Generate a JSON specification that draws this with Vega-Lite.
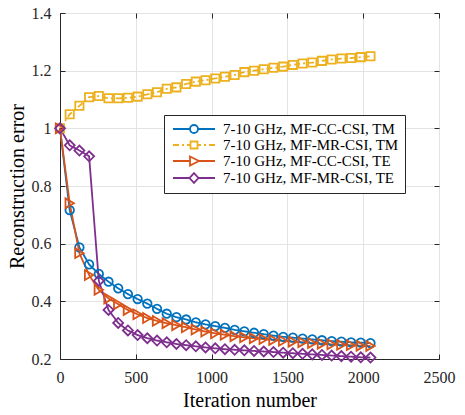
{
  "$schema": "https://vega.github.io/schema/vega-lite/v6.json",
  "width": 379,
  "height": 346,
  "autosize": "none",
  "padding": {"left": 60, "top": 13, "right": 26, "bottom": 56},
  "background": "white",
  "config": {
    "view": {"stroke": "#262626", "strokeWidth": 1},
    "font": "Liberation Serif",
    "axis": {
      "labelFont": "Liberation Serif",
      "labelFontSize": 16,
      "labelColor": "#262626",
      "titleFont": "Liberation Serif",
      "titleFontSize": 20,
      "titleFontWeight": "normal",
      "titleColor": "#000000",
      "tickColor": "#262626",
      "domainColor": "#262626",
      "gridColor": "#e3e3e3",
      "gridWidth": 1,
      "labelFlush": false,
      "labelOverlap": false
    },
    "legend": {"labelFont": "Liberation Serif"}
  },
  "data": {
    "values": [
      {"it": 0, "series": "7-10 GHz, MF-CC-CSI, TM", "v": 1.0},
      {"it": 64, "series": "7-10 GHz, MF-CC-CSI, TM", "v": 0.716},
      {"it": 128, "series": "7-10 GHz, MF-CC-CSI, TM", "v": 0.587},
      {"it": 192, "series": "7-10 GHz, MF-CC-CSI, TM", "v": 0.528},
      {"it": 256, "series": "7-10 GHz, MF-CC-CSI, TM", "v": 0.495},
      {"it": 320, "series": "7-10 GHz, MF-CC-CSI, TM", "v": 0.468},
      {"it": 384, "series": "7-10 GHz, MF-CC-CSI, TM", "v": 0.445},
      {"it": 448, "series": "7-10 GHz, MF-CC-CSI, TM", "v": 0.425},
      {"it": 512, "series": "7-10 GHz, MF-CC-CSI, TM", "v": 0.408},
      {"it": 576, "series": "7-10 GHz, MF-CC-CSI, TM", "v": 0.392},
      {"it": 640, "series": "7-10 GHz, MF-CC-CSI, TM", "v": 0.374},
      {"it": 704, "series": "7-10 GHz, MF-CC-CSI, TM", "v": 0.357},
      {"it": 768, "series": "7-10 GHz, MF-CC-CSI, TM", "v": 0.345},
      {"it": 832, "series": "7-10 GHz, MF-CC-CSI, TM", "v": 0.337},
      {"it": 896, "series": "7-10 GHz, MF-CC-CSI, TM", "v": 0.327},
      {"it": 960, "series": "7-10 GHz, MF-CC-CSI, TM", "v": 0.320},
      {"it": 1024, "series": "7-10 GHz, MF-CC-CSI, TM", "v": 0.314},
      {"it": 1088, "series": "7-10 GHz, MF-CC-CSI, TM", "v": 0.308},
      {"it": 1152, "series": "7-10 GHz, MF-CC-CSI, TM", "v": 0.301},
      {"it": 1216, "series": "7-10 GHz, MF-CC-CSI, TM", "v": 0.296},
      {"it": 1280, "series": "7-10 GHz, MF-CC-CSI, TM", "v": 0.291},
      {"it": 1344, "series": "7-10 GHz, MF-CC-CSI, TM", "v": 0.286},
      {"it": 1408, "series": "7-10 GHz, MF-CC-CSI, TM", "v": 0.281},
      {"it": 1472, "series": "7-10 GHz, MF-CC-CSI, TM", "v": 0.277},
      {"it": 1536, "series": "7-10 GHz, MF-CC-CSI, TM", "v": 0.274},
      {"it": 1600, "series": "7-10 GHz, MF-CC-CSI, TM", "v": 0.271},
      {"it": 1664, "series": "7-10 GHz, MF-CC-CSI, TM", "v": 0.268},
      {"it": 1728, "series": "7-10 GHz, MF-CC-CSI, TM", "v": 0.265},
      {"it": 1792, "series": "7-10 GHz, MF-CC-CSI, TM", "v": 0.262},
      {"it": 1856, "series": "7-10 GHz, MF-CC-CSI, TM", "v": 0.260},
      {"it": 1920, "series": "7-10 GHz, MF-CC-CSI, TM", "v": 0.258},
      {"it": 1984, "series": "7-10 GHz, MF-CC-CSI, TM", "v": 0.257},
      {"it": 2048, "series": "7-10 GHz, MF-CC-CSI, TM", "v": 0.255},

      {"it": 0, "series": "7-10 GHz, MF-MR-CSI, TM", "v": 1.0},
      {"it": 64, "series": "7-10 GHz, MF-MR-CSI, TM", "v": 1.049},
      {"it": 128, "series": "7-10 GHz, MF-MR-CSI, TM", "v": 1.078},
      {"it": 192, "series": "7-10 GHz, MF-MR-CSI, TM", "v": 1.108},
      {"it": 256, "series": "7-10 GHz, MF-MR-CSI, TM", "v": 1.112},
      {"it": 320, "series": "7-10 GHz, MF-MR-CSI, TM", "v": 1.104},
      {"it": 384, "series": "7-10 GHz, MF-MR-CSI, TM", "v": 1.104},
      {"it": 448, "series": "7-10 GHz, MF-MR-CSI, TM", "v": 1.106},
      {"it": 512, "series": "7-10 GHz, MF-MR-CSI, TM", "v": 1.110},
      {"it": 576, "series": "7-10 GHz, MF-MR-CSI, TM", "v": 1.118},
      {"it": 640, "series": "7-10 GHz, MF-MR-CSI, TM", "v": 1.125},
      {"it": 704, "series": "7-10 GHz, MF-MR-CSI, TM", "v": 1.137},
      {"it": 768, "series": "7-10 GHz, MF-MR-CSI, TM", "v": 1.142},
      {"it": 832, "series": "7-10 GHz, MF-MR-CSI, TM", "v": 1.154},
      {"it": 896, "series": "7-10 GHz, MF-MR-CSI, TM", "v": 1.162},
      {"it": 960, "series": "7-10 GHz, MF-MR-CSI, TM", "v": 1.167},
      {"it": 1024, "series": "7-10 GHz, MF-MR-CSI, TM", "v": 1.173},
      {"it": 1088, "series": "7-10 GHz, MF-MR-CSI, TM", "v": 1.179},
      {"it": 1152, "series": "7-10 GHz, MF-MR-CSI, TM", "v": 1.185},
      {"it": 1216, "series": "7-10 GHz, MF-MR-CSI, TM", "v": 1.195},
      {"it": 1280, "series": "7-10 GHz, MF-MR-CSI, TM", "v": 1.200},
      {"it": 1344, "series": "7-10 GHz, MF-MR-CSI, TM", "v": 1.205},
      {"it": 1408, "series": "7-10 GHz, MF-MR-CSI, TM", "v": 1.210},
      {"it": 1472, "series": "7-10 GHz, MF-MR-CSI, TM", "v": 1.214},
      {"it": 1536, "series": "7-10 GHz, MF-MR-CSI, TM", "v": 1.220},
      {"it": 1600, "series": "7-10 GHz, MF-MR-CSI, TM", "v": 1.225},
      {"it": 1664, "series": "7-10 GHz, MF-MR-CSI, TM", "v": 1.228},
      {"it": 1728, "series": "7-10 GHz, MF-MR-CSI, TM", "v": 1.234},
      {"it": 1792, "series": "7-10 GHz, MF-MR-CSI, TM", "v": 1.239},
      {"it": 1856, "series": "7-10 GHz, MF-MR-CSI, TM", "v": 1.242},
      {"it": 1920, "series": "7-10 GHz, MF-MR-CSI, TM", "v": 1.244},
      {"it": 1984, "series": "7-10 GHz, MF-MR-CSI, TM", "v": 1.247},
      {"it": 2048, "series": "7-10 GHz, MF-MR-CSI, TM", "v": 1.250},

      {"it": 0, "series": "7-10 GHz, MF-CC-CSI, TE", "v": 1.0},
      {"it": 64, "series": "7-10 GHz, MF-CC-CSI, TE", "v": 0.740},
      {"it": 128, "series": "7-10 GHz, MF-CC-CSI, TE", "v": 0.567},
      {"it": 192, "series": "7-10 GHz, MF-CC-CSI, TE", "v": 0.491},
      {"it": 256, "series": "7-10 GHz, MF-CC-CSI, TE", "v": 0.440},
      {"it": 320, "series": "7-10 GHz, MF-CC-CSI, TE", "v": 0.410},
      {"it": 384, "series": "7-10 GHz, MF-CC-CSI, TE", "v": 0.390},
      {"it": 448, "series": "7-10 GHz, MF-CC-CSI, TE", "v": 0.370},
      {"it": 512, "series": "7-10 GHz, MF-CC-CSI, TE", "v": 0.355},
      {"it": 576, "series": "7-10 GHz, MF-CC-CSI, TE", "v": 0.342},
      {"it": 640, "series": "7-10 GHz, MF-CC-CSI, TE", "v": 0.332},
      {"it": 704, "series": "7-10 GHz, MF-CC-CSI, TE", "v": 0.324},
      {"it": 768, "series": "7-10 GHz, MF-CC-CSI, TE", "v": 0.317},
      {"it": 832, "series": "7-10 GHz, MF-CC-CSI, TE", "v": 0.310},
      {"it": 896, "series": "7-10 GHz, MF-CC-CSI, TE", "v": 0.302},
      {"it": 960, "series": "7-10 GHz, MF-CC-CSI, TE", "v": 0.295},
      {"it": 1024, "series": "7-10 GHz, MF-CC-CSI, TE", "v": 0.289},
      {"it": 1088, "series": "7-10 GHz, MF-CC-CSI, TE", "v": 0.284},
      {"it": 1152, "series": "7-10 GHz, MF-CC-CSI, TE", "v": 0.279},
      {"it": 1216, "series": "7-10 GHz, MF-CC-CSI, TE", "v": 0.275},
      {"it": 1280, "series": "7-10 GHz, MF-CC-CSI, TE", "v": 0.272},
      {"it": 1344, "series": "7-10 GHz, MF-CC-CSI, TE", "v": 0.269},
      {"it": 1408, "series": "7-10 GHz, MF-CC-CSI, TE", "v": 0.266},
      {"it": 1472, "series": "7-10 GHz, MF-CC-CSI, TE", "v": 0.263},
      {"it": 1536, "series": "7-10 GHz, MF-CC-CSI, TE", "v": 0.260},
      {"it": 1600, "series": "7-10 GHz, MF-CC-CSI, TE", "v": 0.258},
      {"it": 1664, "series": "7-10 GHz, MF-CC-CSI, TE", "v": 0.255},
      {"it": 1728, "series": "7-10 GHz, MF-CC-CSI, TE", "v": 0.253},
      {"it": 1792, "series": "7-10 GHz, MF-CC-CSI, TE", "v": 0.251},
      {"it": 1856, "series": "7-10 GHz, MF-CC-CSI, TE", "v": 0.249},
      {"it": 1920, "series": "7-10 GHz, MF-CC-CSI, TE", "v": 0.248},
      {"it": 1984, "series": "7-10 GHz, MF-CC-CSI, TE", "v": 0.246},
      {"it": 2048, "series": "7-10 GHz, MF-CC-CSI, TE", "v": 0.245},

      {"it": 0, "series": "7-10 GHz, MF-MR-CSI, TE", "v": 1.0},
      {"it": 64, "series": "7-10 GHz, MF-MR-CSI, TE", "v": 0.941},
      {"it": 128, "series": "7-10 GHz, MF-MR-CSI, TE", "v": 0.923},
      {"it": 192, "series": "7-10 GHz, MF-MR-CSI, TE", "v": 0.903},
      {"it": 256, "series": "7-10 GHz, MF-MR-CSI, TE", "v": 0.471},
      {"it": 320, "series": "7-10 GHz, MF-MR-CSI, TE", "v": 0.370},
      {"it": 384, "series": "7-10 GHz, MF-MR-CSI, TE", "v": 0.325},
      {"it": 448, "series": "7-10 GHz, MF-MR-CSI, TE", "v": 0.299},
      {"it": 512, "series": "7-10 GHz, MF-MR-CSI, TE", "v": 0.283},
      {"it": 576, "series": "7-10 GHz, MF-MR-CSI, TE", "v": 0.272},
      {"it": 640, "series": "7-10 GHz, MF-MR-CSI, TE", "v": 0.264},
      {"it": 704, "series": "7-10 GHz, MF-MR-CSI, TE", "v": 0.258},
      {"it": 768, "series": "7-10 GHz, MF-MR-CSI, TE", "v": 0.252},
      {"it": 832, "series": "7-10 GHz, MF-MR-CSI, TE", "v": 0.248},
      {"it": 896, "series": "7-10 GHz, MF-MR-CSI, TE", "v": 0.244},
      {"it": 960, "series": "7-10 GHz, MF-MR-CSI, TE", "v": 0.240},
      {"it": 1024, "series": "7-10 GHz, MF-MR-CSI, TE", "v": 0.237},
      {"it": 1088, "series": "7-10 GHz, MF-MR-CSI, TE", "v": 0.234},
      {"it": 1152, "series": "7-10 GHz, MF-MR-CSI, TE", "v": 0.232},
      {"it": 1216, "series": "7-10 GHz, MF-MR-CSI, TE", "v": 0.230},
      {"it": 1280, "series": "7-10 GHz, MF-MR-CSI, TE", "v": 0.228},
      {"it": 1344, "series": "7-10 GHz, MF-MR-CSI, TE", "v": 0.226},
      {"it": 1408, "series": "7-10 GHz, MF-MR-CSI, TE", "v": 0.224},
      {"it": 1472, "series": "7-10 GHz, MF-MR-CSI, TE", "v": 0.222},
      {"it": 1536, "series": "7-10 GHz, MF-MR-CSI, TE", "v": 0.220},
      {"it": 1600, "series": "7-10 GHz, MF-MR-CSI, TE", "v": 0.218},
      {"it": 1664, "series": "7-10 GHz, MF-MR-CSI, TE", "v": 0.216},
      {"it": 1728, "series": "7-10 GHz, MF-MR-CSI, TE", "v": 0.214},
      {"it": 1792, "series": "7-10 GHz, MF-MR-CSI, TE", "v": 0.212},
      {"it": 1856, "series": "7-10 GHz, MF-MR-CSI, TE", "v": 0.210},
      {"it": 1920, "series": "7-10 GHz, MF-MR-CSI, TE", "v": 0.208},
      {"it": 1984, "series": "7-10 GHz, MF-MR-CSI, TE", "v": 0.206},
      {"it": 2048, "series": "7-10 GHz, MF-MR-CSI, TE", "v": 0.205}
    ]
  },
  "layer": [
    {
      "mark": {
        "type": "line", "strokeWidth": 1.8,
        "strokeDash": {"expr": "datum.series === '7-10 GHz, MF-MR-CSI, TM' ? [6, 3, 2, 3] : [1, 0]"}
      },
      "encoding": {
        "x": {
          "field": "it", "type": "quantitative",
          "scale": {"domain": [0, 2500], "nice": false, "zero": false},
          "axis": {
            "orient": "bottom", "title": "Iteration number",
            "values": [0, 500, 1000, 1500, 2000, 2500], "format": "d",
            "labelFont": "Liberation Serif", "titleFont": "Liberation Serif",
            "grid": true, "tickSize": -5, "labelPadding": 15, "titlePadding": 5
          }
        },
        "y": {
          "field": "v", "type": "quantitative",
          "scale": {"domain": [0.2, 1.4], "nice": false, "zero": false},
          "axis": {
            "orient": "left", "title": "Reconstruction error",
            "values": [0.2, 0.4, 0.6, 0.8, 1, 1.2, 1.4], "format": ".1~f",
            "labelFont": "Liberation Serif", "titleFont": "Liberation Serif",
            "grid": true, "tickSize": -5, "labelPadding": 14, "titlePadding": 4
          }
        },
        "color": {
          "field": "series", "type": "nominal",
          "scale": {
            "domain": ["7-10 GHz, MF-CC-CSI, TM", "7-10 GHz, MF-MR-CSI, TM", "7-10 GHz, MF-CC-CSI, TE", "7-10 GHz, MF-MR-CSI, TE"],
            "range": ["#0072BD", "#EDB120", "#D95319", "#7E2F8E"]
          }
        }
      }
    },
    {
      "mark": {
        "type": "point", "filled": false, "strokeWidth": 1.8, "opacity": 1,
        "shape": {"expr": "datum.series === '7-10 GHz, MF-CC-CSI, TM' ? 'circle' : datum.series === '7-10 GHz, MF-MR-CSI, TM' ? 'square' : datum.series === '7-10 GHz, MF-CC-CSI, TE' ? 'triangle-right' : 'diamond'"},
        "size": {"expr": "datum.series === '7-10 GHz, MF-CC-CSI, TM' ? 72 : datum.series === '7-10 GHz, MF-MR-CSI, TM' ? 68 : datum.series === '7-10 GHz, MF-CC-CSI, TE' ? 95 : 100"}
      },
      "encoding": {
        "x": {
          "field": "it", "type": "quantitative",
          "axis": {
            "orient": "top", "title": null, "labels": false, "grid": false,
            "domain": false, "tickSize": -5, "values": [0, 500, 1000, 1500, 2000, 2500]
          }
        },
        "y": {
          "field": "v", "type": "quantitative",
          "axis": {
            "orient": "right", "title": null, "labels": false, "grid": false,
            "domain": false, "tickSize": -5, "values": [0.2, 0.4, 0.6, 0.8, 1, 1.2, 1.4]
          }
        },
        "color": {"field": "series", "type": "nominal"}
      }
    },
    {
      "transform": [{"filter": "false"}],
      "mark": {"type": "point", "filled": false, "strokeWidth": 1.8, "opacity": 1},
      "encoding": {
        "x": {"field": "it", "type": "quantitative", "axis": null},
        "y": {"field": "v", "type": "quantitative", "axis": null},
        "color": {
          "field": "series", "type": "nominal",
          "legend": {
            "orient": "none", "legendX": 104, "legendY": 102,
            "title": null,
            "strokeColor": "#262626", "fillColor": "white",
            "padding": 6, "rowPadding": -1.5,
            "symbolSize": 196, "symbolStrokeWidth": 1.8,
            "symbolOffset": 16, "labelOffset": 21,
            "symbolFillColor": "transparent",
            "labelFont": "Liberation Serif", "labelFontSize": 15,
            "labelColor": "#000000", "labelLimit": 300
          }
        },
        "shape": {
          "field": "series", "type": "nominal",
          "scale": {
            "domain": ["7-10 GHz, MF-CC-CSI, TM", "7-10 GHz, MF-MR-CSI, TM", "7-10 GHz, MF-CC-CSI, TE", "7-10 GHz, MF-MR-CSI, TE"],
            "range": [
              "M-3,0H-0.57M0.57,0H3M0.57,0A0.57,0.57,0,1,1,-0.57,0A0.57,0.57,0,1,1,0.57,0",
              "M-3,0H-2.14M-1.71,0H-1.43M-1,0H-0.5M0.5,0H1M1.43,0H1.71M2.14,0H3M-0.5,-0.5H0.5V0.5H-0.5Z",
              "M-3,0H-0.57M0.71,0H3M-0.57,-0.64L0.71,0L-0.57,0.64Z",
              "M-3,0H-0.64M0.64,0H3M0,-0.71L0.64,0L0,0.71L-0.64,0Z"
            ]
          }
        }
      }
    }
  ],
  "resolve": {"axis": {"x": "independent", "y": "independent"}}
}
